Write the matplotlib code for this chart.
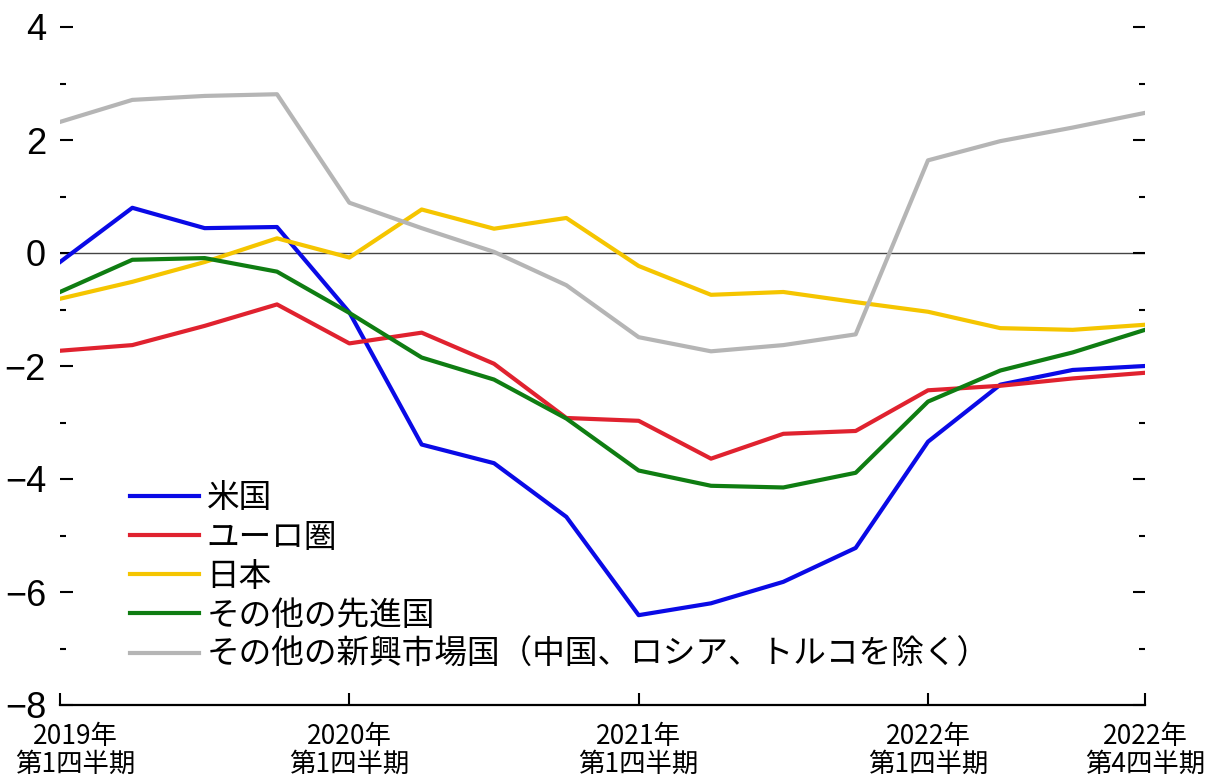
import numpy as np
import matplotlib
matplotlib.use("Agg")
import matplotlib.pyplot as plt
import matplotlib.transforms as mtransforms
from matplotlib.ticker import MultipleLocator

plt.rcParams['font.family'] = ['Liberation Sans Narrow', 'Liberation Sans', 'Noto Sans CJK JP', 'DejaVu Sans']
JP = ['Noto Sans CJK JP', 'DejaVu Sans']

# quarters 2019Q1 .. 2022Q4
quarters = np.arange(16)
tick_pos = [0, 4, 8, 12, 15]
tick_labels = ['2019年\n第1四半期', '2020年\n第1四半期', '2021年\n第1四半期',
               '2022年\n第1四半期', '2022年\n第4四半期']

us = [-0.16, 0.80, 0.44, 0.46, -1.05, -3.39, -3.72, -4.67,
      -6.41, -6.20, -5.82, -5.22, -3.34, -2.33, -2.07, -2.00]
euro = [-1.73, -1.63, -1.29, -0.91, -1.60, -1.41, -1.96, -2.92,
        -2.97, -3.64, -3.20, -3.15, -2.43, -2.35, -2.22, -2.12]
japan = [-0.81, -0.51, -0.16, 0.26, -0.08, 0.77, 0.43, 0.62,
         -0.23, -0.74, -0.69, -0.87, -1.04, -1.33, -1.36, -1.27]
other_adv = [-0.69, -0.12, -0.09, -0.33, -1.06, -1.85, -2.24, -2.93,
             -3.85, -4.12, -4.15, -3.89, -2.63, -2.08, -1.76, -1.36]
other_em = [2.32, 2.71, 2.78, 2.81, 0.89, 0.44, 0.02, -0.57,
            -1.49, -1.74, -1.63, -1.44, 1.64, 1.98, 2.22, 2.48]

series = [
    ('米国', us, '#0a0ae6'),
    ('ユーロ圏', euro, '#e0222f'),
    ('日本', japan, '#f5c500'),
    ('その他の先進国', other_adv, '#0f7d12'),
    ('その他の新興市場国（中国、ロシア、トルコを除く）', other_em, '#b5b5b5'),
]

fig = plt.figure(figsize=(12.09, 7.79), dpi=100)
ax = fig.add_axes([60 / 1209, 1 - 705 / 779, 1085 / 1209, 678 / 779])

ax.axhline(0, color='#444444', linewidth=1.0, zorder=1)
for name, vals, col in series:
    ax.plot(quarters, vals, color=col, linewidth=3.0, label=name, zorder=2)

ax.set_xlim(0, 15)
ax.set_ylim(-8, 4)

for s in ['top', 'left', 'right']:
    ax.spines[s].set_visible(False)
ax.spines['bottom'].set_linewidth(1.6)

ax.set_xticks(tick_pos)
ax.set_xticklabels(tick_labels, fontsize=19, family=JP, linespacing=1.05)
ax.tick_params(axis='x', direction='in', length=9, width=1.5, pad=13)
# shift first label so it is not clipped at the left edge
offset = mtransforms.ScaledTranslation(15 / 100, 0, fig.dpi_scale_trans)
first = ax.get_xticklabels()[0]
first.set_transform(first.get_transform() + offset)

ax.yaxis.set_major_locator(MultipleLocator(2))
ax.yaxis.set_minor_locator(MultipleLocator(1))
ax.tick_params(axis='y', which='both', direction='in', left=True, right=True,
               labelleft=True, labelright=False, labelsize=26, pad=10)
ax.tick_params(axis='y', which='major', length=9, width=1.5)
ax.tick_params(axis='y', which='minor', length=4.5, width=1.5)

leg = ax.legend(loc='lower left', bbox_to_anchor=(70 / 1085, 0.05), frameon=False,
                prop={'family': JP, 'size': 23.5}, handlelength=2.1, handletextpad=0.25,
                labelspacing=0.22, borderpad=0, borderaxespad=0)

fig.savefig('out.png', dpi=100)
